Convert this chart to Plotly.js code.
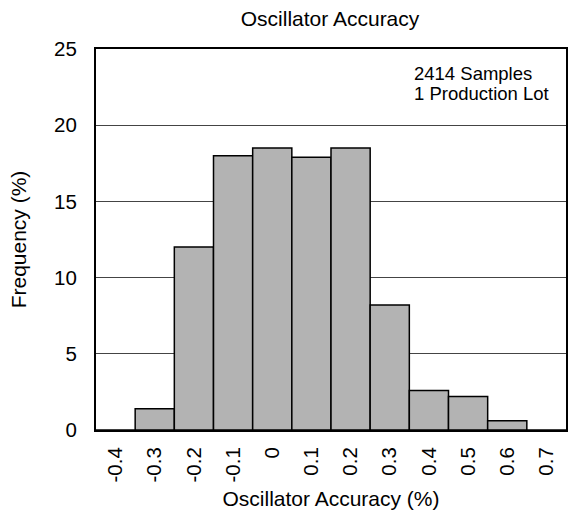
<!DOCTYPE html>
<html><head><meta charset="utf-8">
<script src="https://cdn.plot.ly/plotly-3.0.1.min.js"></script>
<style>body{margin:0;background:#fff}#c{width:572px;height:516px}</style>
</head><body><div id="c"></div>
<script>
const categories = ["-0.4","-0.3","-0.2","-0.1","0","0.1","0.2","0.3","0.4","0.5","0.6","0.7"];
const frequency = [0, 1.4, 12, 18, 18.5, 17.9, 18.5, 8.2, 2.6, 2.2, 0.6, 0];
const noteLines = ["2414 Samples", "1 Production Lot"];

const fam = "Liberation Sans, Arial, sans-serif";
const f = s => ({family: fam, size: s, color: "#000"});
Plotly.newPlot("c", [{
  type: "bar", x: categories, y: frequency,
  marker: {color: "#b3b3b3", line: {color: "#000", width: 1.5}},
  hoverinfo: "skip"
}], {
  width: 572, height: 516,
  margin: {l: 96, r: 6, t: 49, b: 86},
  paper_bgcolor: "#fff", plot_bgcolor: "#fff",
  bargap: 0, showlegend: false,
  font: f(21),
  title: {text: "Oscillator Accuracy", x: 0.577, xanchor: "center", y: 0.963, yanchor: "middle", font: f(21)},
  xaxis: {type: "category", tickangle: -90, showgrid: false, showline: true, linecolor: "#000", linewidth: 2, mirror: true,
    ticks: "outside", ticklen: 7, tickcolor: "rgba(0,0,0,0)", tickfont: f(20.5),
    title: {text: "Oscillator Accuracy (%)", font: f(21), standoff: 10}},
  yaxis: {range: [0, 25], dtick: 5, showgrid: true, gridcolor: "#444", gridwidth: 1, showline: true, linecolor: "#000", linewidth: 2, mirror: true,
    ticks: "outside", ticklen: 13, tickcolor: "rgba(0,0,0,0)", zeroline: false, tickfont: f(20.5),
    title: {text: "Frequency (%)", font: f(21), standoff: 22}},
  annotations: noteLines.map((t, i) => ({xref: "paper", yref: "paper", x: 0.672, y: 0.937 - i * 0.0525, xanchor: "left", yanchor: "middle", align: "left",
    text: t, showarrow: false, font: f(18.5)}))
}, {displayModeBar: false, staticPlot: true});
</script></body></html>
